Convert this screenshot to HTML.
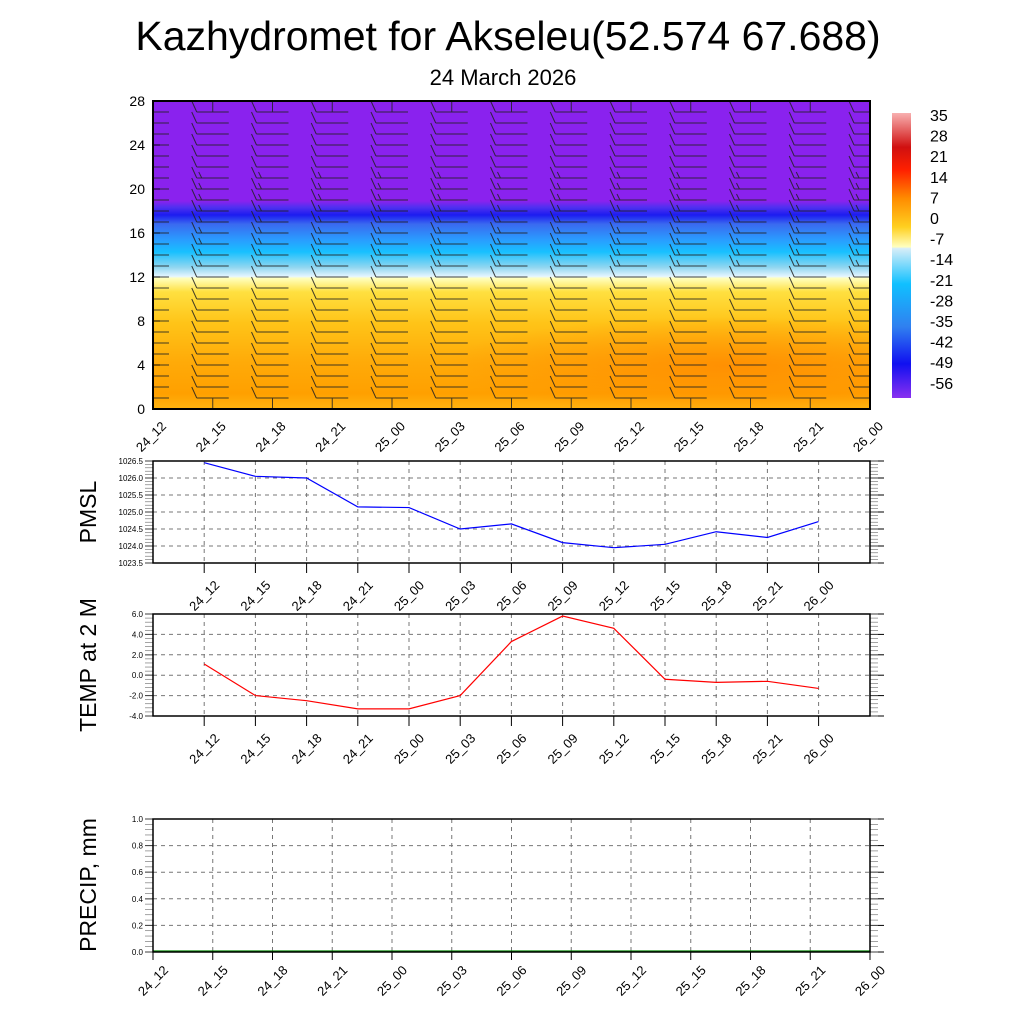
<!DOCTYPE html>
<html><head><meta charset="utf-8"><style>
body{margin:0;background:#fff;width:1024px;height:1024px;overflow:hidden}
svg{font-family:"Liberation Sans",sans-serif}
</style></head><body>
<svg id="s" width="1024" height="1024" xmlns="http://www.w3.org/2000/svg">
<defs>
<linearGradient id="tg" x1="0" y1="0" x2="0" y2="1">
<stop offset="0" stop-color="#8a22ee"/>
<stop offset="0.325" stop-color="#8a22ee"/>
<stop offset="0.345" stop-color="#5030f0"/>
<stop offset="0.37" stop-color="#1c1cf0"/>
<stop offset="0.40" stop-color="#3a6af0"/>
<stop offset="0.45" stop-color="#2a9cff"/>
<stop offset="0.49" stop-color="#18c0ff"/>
<stop offset="0.54" stop-color="#90d6f0"/>
<stop offset="0.57" stop-color="#e6f6ff"/>
<stop offset="0.575" stop-color="#ffffc0"/>
<stop offset="0.62" stop-color="#ffe040"/>
<stop offset="0.72" stop-color="#ffc418"/>
<stop offset="0.85" stop-color="#ffaa08"/>
<stop offset="0.95" stop-color="#ffa000"/>
<stop offset="1" stop-color="#ffb410"/>
</linearGradient>
<radialGradient id="og" cx="0.8" cy="0.85" r="0.4" gradientTransform="scale(1,0.4) translate(0,1.3)">
<stop offset="0" stop-color="#ff8a00" stop-opacity="0.8"/>
<stop offset="1" stop-color="#ff8a00" stop-opacity="0"/>
</radialGradient>
<linearGradient id="cb" x1="0" y1="0" x2="0" y2="1">
<stop offset="0" stop-color="#f8b0b0"/>
<stop offset="0.12" stop-color="#d01010"/>
<stop offset="0.2" stop-color="#ff2000"/>
<stop offset="0.3" stop-color="#ff8c00"/>
<stop offset="0.4" stop-color="#ffd020"/>
<stop offset="0.47" stop-color="#ffffc0"/>
<stop offset="0.475" stop-color="#d8eef8"/>
<stop offset="0.6" stop-color="#10c0ff"/>
<stop offset="0.75" stop-color="#3080f0"/>
<stop offset="0.88" stop-color="#1010f0"/>
<stop offset="1" stop-color="#8a30f0"/>
</linearGradient>
</defs>
<text x="508" y="50" font-size="41" text-anchor="middle">Kazhydromet for Akseleu(52.574 67.688)</text>
<text x="503" y="85" font-size="22" text-anchor="middle">24 March 2026</text>
<rect x="153" y="101" width="717" height="308" fill="url(#tg)"/>
<rect x="153" y="101" width="717" height="308" fill="url(#og)"/>
<g id="barbs" stroke="#222" stroke-width="1" fill="none" opacity="0.85"></g>
<rect x="153" y="101" width="717" height="308" fill="none" stroke="#000" stroke-width="2"/>
<rect x="892" y="113" width="19" height="285" fill="url(#cb)"/>
<g id="g"></g>
</svg>
<script>
const NS="http://www.w3.org/2000/svg",g=document.getElementById('g'),bb=document.getElementById('barbs');
function el(t,a,p){const e=document.createElementNS(NS,t);for(const k in a)e.setAttribute(k,a[k]);(p||g).appendChild(e);return e;}
function tx(x,y,s,fs,anc,rot){const e=el('text',{x:x,y:y,'font-size':fs,'text-anchor':anc||'start'});if(rot)e.setAttribute('transform',`rotate(${rot} ${x} ${y})`);e.textContent=s;return e;}
const labs=["24_12","24_15","24_18","24_21","25_00","25_03","25_06","25_09","25_12","25_15","25_18","25_21","26_00"];
for(let v=0;v<=28;v+=4){const y=409-v*11;tx(145,y+5,v,14,'end');el('line',{x1:153,y1:y,x2:160,y2:y,stroke:'#000'});}
for(let i=0;i<13;i++){const cx=153+59.75*i;
 if(i>0&&i<12){el('line',{x1:cx,y1:101,x2:cx,y2:112},bb);el('line',{x1:cx,y1:398,x2:cx,y2:409},bb);}
 for(let k=0;k<=27;k++){const y=409-k*11;
 if(y<104||y>406)continue;
 const x1=Math.max(153,cx-16),x2=Math.min(870,cx+16);
 el('line',{x1:x1,y1:y,x2:x2,y2:y},bb);
 if(cx-16>=153){el('line',{x1:cx-16,y1:y,x2:cx-21,y2:y-11},bb);
 if(k>12&&k<22)el('line',{x1:cx-11,y1:y,x2:cx-14,y2:y-6},bb);}
}}
const cbl=[35,28,21,14,7,0,-7,-14,-21,-28,-35,-42,-49,-56];
cbl.forEach((v,i)=>tx(930,121+i*20.6,v,16));
labs.forEach((l,i)=>{const x=153+59.75*i;tx(x+14,427,l,13,'end',-45);});
function panel(y0,y1,vmin,vmax,step,fmt,vals,color,ylabel,minor){
 const H=y1-y0;const Y=v=>y1-(v-vmin)/(vmax-vmin)*H;
 for(let v=vmin;v<=vmax+1e-6;v+=step){const y=Y(v);
  if(v>vmin+1e-6&&v<vmax-1e-6)el('line',{x1:153,y1:y,x2:870,y2:y,stroke:'#777','stroke-dasharray':'4,4'});
  el('line',{x1:153,y1:y,x2:145,y2:y,stroke:'#000'});el('line',{x1:870,y1:y,x2:884,y2:y,stroke:'#000'});
  tx(143,y+3,fmt(v),8,'end');}
 for(let v=vmin;v<=vmax+1e-6;v+=step/minor){const y=Y(v);el('line',{x1:145,y1:y,x2:153,y2:y,stroke:'#666','stroke-width':0.6});el('line',{x1:870,y1:y,x2:878,y2:y,stroke:'#666','stroke-width':0.6});}
 const xs=[];for(let i=0;i<13;i++){const x=153+51.2*(i+1);xs.push(x);
  el('line',{x1:x,y1:y0,x2:x,y2:y1,stroke:'#777','stroke-dasharray':'4,4'});
  el('line',{x1:x,y1:y1,x2:x,y2:y1+10,stroke:'#000'});
  tx(x+16,y1+23,labs[i],13,'end',-45);}
 if(vals)el('polyline',{points:vals.map((v,i)=>xs[i]+','+Y(v)).join(' '),fill:'none',stroke:color,'stroke-width':1.2});
 el('rect',{x:153,y:y0,width:717,height:H,fill:'none',stroke:'#000','stroke-width':1.5});
 tx(96,(y0+y1)/2,ylabel,23,'middle',-90);
}
panel(461,563,1023.5,1026.5,0.5,v=>v.toFixed(1),[1026.45,1026.05,1026.0,1025.15,1025.13,1024.5,1024.65,1024.1,1023.95,1024.05,1024.42,1024.25,1024.72],'#00f','PMSL',5);
panel(614,716,-4,6,2,v=>v.toFixed(1),[1.1,-2.0,-2.5,-3.3,-3.3,-2.0,3.3,5.8,4.6,-0.4,-0.7,-0.6,-1.3],'#f00','TEMP at 2 M',5);
(function(){const y0=819,y1=952,H=133;const Y=v=>y1-v*H;
 for(let j=0;j<=5;j++){const v=j*0.2,y=Y(v);
  if(j>0&&j<5)el('line',{x1:153,y1:y,x2:870,y2:y,stroke:'#777','stroke-dasharray':'4,4'});
  el('line',{x1:153,y1:y,x2:145,y2:y,stroke:'#000'});el('line',{x1:870,y1:y,x2:884,y2:y,stroke:'#000'});
  tx(143,y+3,v.toFixed(1),8,'end');}
 for(let j=0;j<=25;j++){const y=Y(j*0.04);el('line',{x1:145,y1:y,x2:153,y2:y,stroke:'#666','stroke-width':0.6});el('line',{x1:870,y1:y,x2:878,y2:y,stroke:'#666','stroke-width':0.6});}
 for(let i=0;i<13;i++){const x=153+59.75*i;
  if(i>0&&i<12)el('line',{x1:x,y1:y0,x2:x,y2:y1,stroke:'#777','stroke-dasharray':'4,4'});
  el('line',{x1:x,y1:y1,x2:x,y2:y1+8,stroke:'#000'});
  tx(x+16,y1+19,labs[i],13,'end',-45);}
 el('line',{x1:153,y1:y1-1,x2:870,y2:y1-1,stroke:'#080','stroke-width':1.2});
 el('rect',{x:153,y:y0,width:717,height:H,fill:'none',stroke:'#000','stroke-width':1.5});
 tx(96,885,'PRECIP, mm',23,'middle',-90);
})();
</script>
</body></html>
